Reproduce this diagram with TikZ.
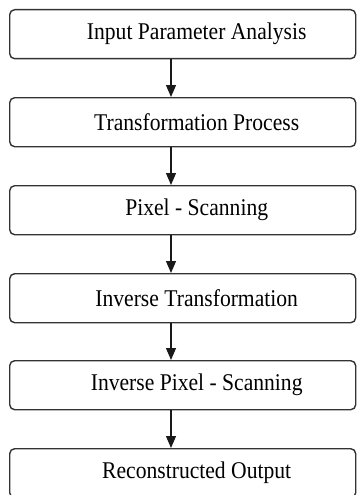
\documentclass[tikz,border=0pt]{standalone}
\usepackage{fontspec}
\setmainfont{Liberation Serif}[FakeStretch=0.9]
\usetikzlibrary{arrows.meta}
\begin{document}
\begin{tikzpicture}[x=1pt,y=-1pt,
  stepbox/.style={draw=black!80, line width=1.4pt, rounded corners=5pt,
    minimum width=346pt, minimum height=49pt, inner sep=0pt, anchor=north west,
    font=\fontsize{24}{28}\selectfont},
  arr/.style={draw=black!90, line width=1.2pt, -{Triangle[length=12pt,width=10pt]}}]
\useasboundingbox (0,0) rectangle (358,495);
\newcommand{\shifted}[1]{\hspace*{28pt}#1}
\node[stepbox] (b1) at (9,9) {\shifted{Input Parameter Analysis}};
\node[stepbox] (b2) at (9,97) {\shifted{Transformation Process}};
\node[stepbox] (b3) at (9,185) {\shifted{Pixel - Scanning}};
\node[stepbox] (b4) at (9,273) {\shifted{Inverse Transformation}};
\node[stepbox] (b5) at (9,360) {\shifted{Inverse Pixel - Scanning}};
\node[stepbox] (b6) at (9,448) {\shifted{Reconstructed Output}};
\coordinate (ax) at (171,0);
\draw[arr] (b1.south -| ax) -- (b2.north -| ax);
\draw[arr] (b2.south -| ax) -- (b3.north -| ax);
\draw[arr] (b3.south -| ax) -- (b4.north -| ax);
\draw[arr] (b4.south -| ax) -- (b5.north -| ax);
\draw[arr] (b5.south -| ax) -- (b6.north -| ax);
\end{tikzpicture}
\end{document}
